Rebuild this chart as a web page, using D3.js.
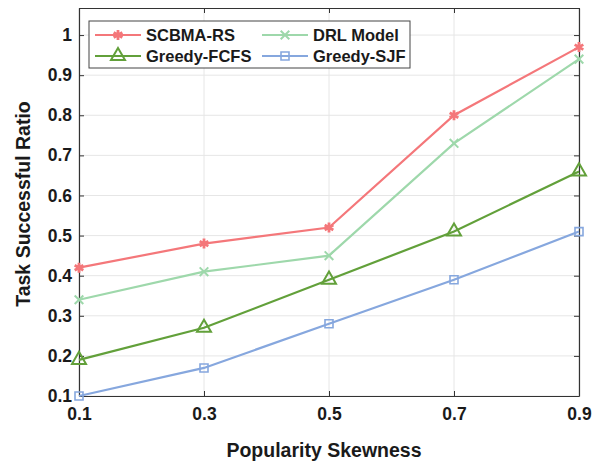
<!DOCTYPE html>
<html>
<head>
<meta charset="utf-8">
<script src="https://d3js.org/d3.v7.min.js"></script>
<style>
  body { margin: 0; background: #fff; }
  text { font-family: "Liberation Sans", Arial, sans-serif; font-weight: bold; }
</style>
</head>
<body>
<div id="chart"></div>
<script>
const skew = [0.1, 0.3, 0.5, 0.7, 0.9];
const scbma = [0.42, 0.48, 0.52, 0.80, 0.97];
const drl = [0.34, 0.41, 0.45, 0.73, 0.94];
const fcfs = [0.19, 0.27, 0.39, 0.51, 0.66];
const sjf = [0.10, 0.17, 0.28, 0.39, 0.51];
const yTicks = [0.1, 0.2, 0.3, 0.4, 0.5, 0.6, 0.7, 0.8, 0.9, 1];

const series = [
  { name: "SCBMA-RS", values: scbma, color: "#f4777a", sym: d3.symbolAsterisk, size: 70, sw: 2.8 },
  { name: "DRL Model", values: drl, color: "#9ed8ab", sym: d3.symbolTimes, size: 50, sw: 2 },
  { name: "Greedy-FCFS", values: fcfs, color: "#62a03a", sym: d3.symbolTriangle, size: 85, sw: 2 },
  { name: "Greedy-SJF", values: sjf, color: "#86a7de", sym: d3.symbolSquare, size: 64, sw: 1.6 }
];

const W = 592, H = 462;
const m = { left: 79, right: 13, top: 8, bottom: 66 };
const svg = d3.select("#chart").append("svg").attr("width", W).attr("height", H);

const x = d3.scaleLinear().domain([0.1, 0.9]).range([m.left, W - m.right]);
const y = d3.scaleLinear().domain([0.1, 1.0675]).range([H - m.bottom, m.top]);

// grid
svg.append("g").selectAll("line").data(yTicks).enter().append("line")
  .attr("x1", m.left).attr("x2", W - m.right)
  .attr("y1", d => y(d)).attr("y2", d => y(d))
  .attr("stroke", "#e6e6e6").attr("stroke-width", 1);
svg.append("g").selectAll("line").data(skew).enter().append("line")
  .attr("y1", m.top).attr("y2", H - m.bottom)
  .attr("x1", d => x(d)).attr("x2", d => x(d))
  .attr("stroke", "#e6e6e6").attr("stroke-width", 1);

// axes
const axStyle = g => {
  g.select(".domain").attr("stroke", "#333").attr("stroke-width", 1.2);
  g.selectAll(".tick line").attr("stroke", "#333");
  g.selectAll("text").attr("font-size", 17.5).attr("fill", "#1a1a1a")
    .attr("font-family", "'Liberation Sans', Arial, sans-serif").attr("font-weight", "bold");
};
svg.append("g").attr("transform", `translate(0,${H - m.bottom})`)
  .call(d3.axisBottom(x).tickValues(skew).tickSize(-5).tickSizeOuter(0).tickPadding(12).tickFormat(d3.format(".1f")))
  .call(axStyle);
svg.append("g").attr("transform", `translate(${m.left},0)`)
  .call(d3.axisLeft(y).tickValues(yTicks).tickSize(-5).tickSizeOuter(0).tickPadding(7).tickFormat(d => d === 1 ? "1" : d3.format(".1f")(d)))
  .call(axStyle);
svg.append("g").attr("transform", `translate(0,${m.top})`)
  .call(d3.axisTop(x).tickValues(skew).tickSize(-5).tickSizeOuter(0).tickFormat(""))
  .call(axStyle);
svg.append("g").attr("transform", `translate(${W - m.right},0)`)
  .call(d3.axisRight(y).tickValues(yTicks).tickSize(-5).tickSizeOuter(0).tickFormat(""))
  .call(axStyle);

// titles
svg.append("text").attr("x", 324).attr("y", 457)
  .attr("text-anchor", "middle").attr("font-size", 19.5).attr("fill", "#1a1a1a")
  .text("Popularity Skewness");
svg.append("text").attr("transform", "translate(30,204) rotate(-90)")
  .attr("text-anchor", "middle").attr("font-size", 19.5).attr("fill", "#1a1a1a")
  .text("Task Successful Ratio");

// lines
const line = d3.line().x((d, i) => x(skew[i])).y(d => y(d));
series.forEach(s => {
  svg.append("path").datum(s.values).attr("d", line)
    .attr("fill", "none").attr("stroke", s.color).attr("stroke-width", 2.2);
  svg.append("g").selectAll("path").data(s.values).enter().append("path")
    .attr("transform", (d, i) => `translate(${x(skew[i])},${y(d)})`)
    .attr("d", d3.symbol().type(s.sym).size(s.size))
    .attr("fill", "none").attr("stroke", s.color).attr("stroke-width", s.sw);
});

// legend
const lg = svg.append("g");
lg.append("rect").attr("x", 89).attr("y", 21).attr("width", 321).attr("height", 47)
  .attr("fill", "#fff").attr("stroke", "#444").attr("stroke-width", 1);
series.forEach((s, i) => {
  const lx = i % 2 === 0 ? 95 : 262;
  const ly = i < 2 ? 35 : 56;
  lg.append("line").attr("x1", lx).attr("x2", lx + 46).attr("y1", ly).attr("y2", ly)
    .attr("stroke", s.color).attr("stroke-width", 2.2);
  lg.append("path").attr("transform", `translate(${lx + 23},${ly})`)
    .attr("d", d3.symbol().type(s.sym).size(s.size))
    .attr("fill", "none").attr("stroke", s.color).attr("stroke-width", s.sw);
  lg.append("text").attr("x", lx + 51).attr("y", ly + 6)
    .attr("font-size", 16.5).attr("fill", "#1a1a1a").text(s.name);
});
</script>
</body>
</html>
